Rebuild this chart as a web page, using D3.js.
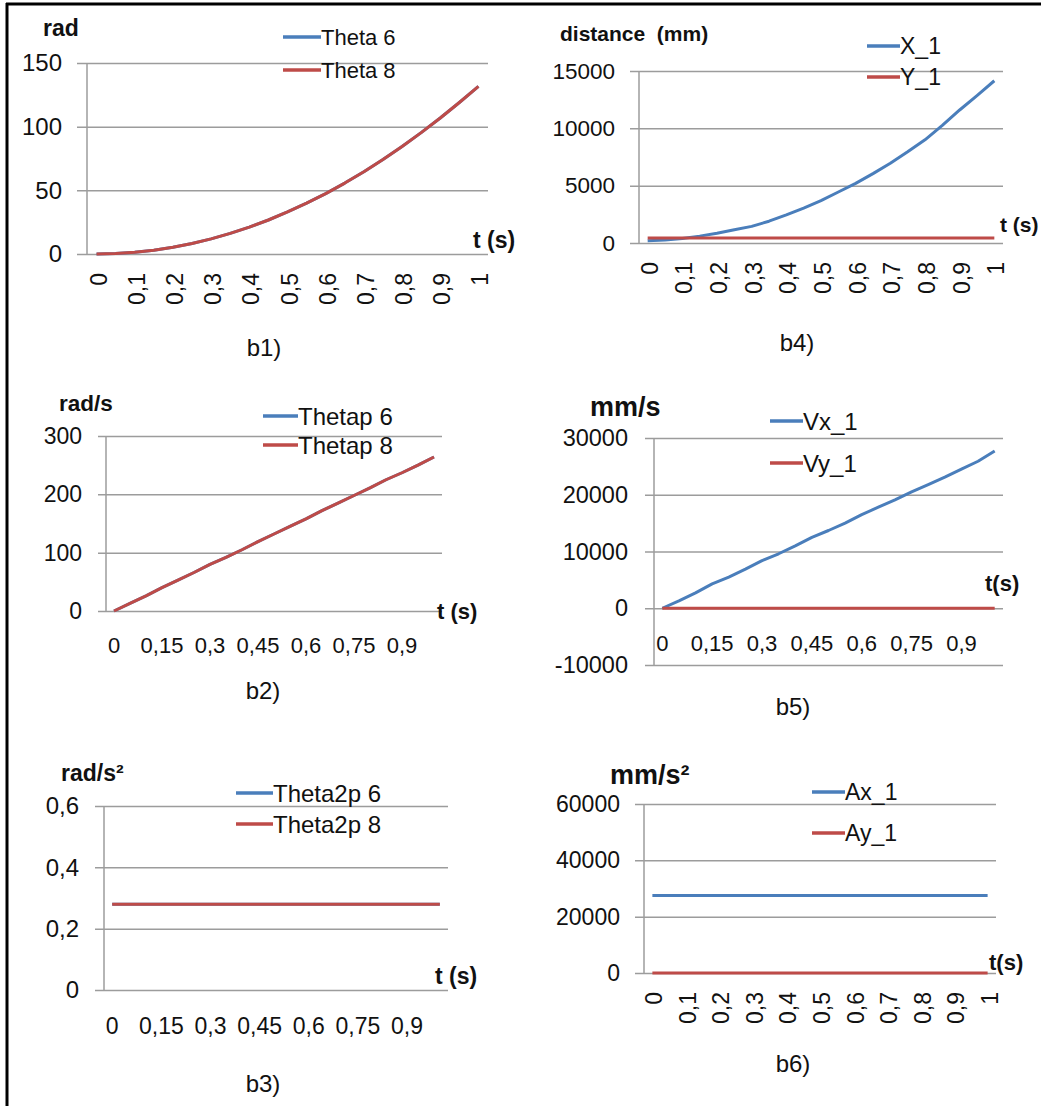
<!DOCTYPE html>
<html>
<head>
<meta charset="utf-8">
<script src="https://cdnjs.cloudflare.com/ajax/libs/d3/7.8.5/d3.min.js"></script>
<style>
  body { margin: 0; background: #fff; }
  text { font-family: "Liberation Sans", Arial, sans-serif; fill: #111; white-space: pre; }
</style>
</head>
<body>
<div id="vis"></div>
<script>
// time categories (21 points, 0 .. 1 s)
var tLabels = ["0","0,05","0,1","0,15","0,2","0,25","0,3","0,35","0,4","0,45","0,5",
               "0,55","0,6","0,65","0,7","0,75","0,8","0,85","0,9","0,95","1"];
var tTicksTenth = ["0","0,1","0,2","0,3","0,4","0,5","0,6","0,7","0,8","0,9","1"];
var tTicksFifteen = ["0","0,15","0,3","0,45","0,6","0,75","0,9"];

// b1) angular position (rad)
var theta6 = [0, 0.3, 1.3, 3.0, 5.3, 8.2, 11.9, 16.2, 21.1, 26.7, 33.0, 39.9, 47.4, 55.7, 64.6, 74.2, 84.4, 95.3, 106.8, 119.0, 131.6];
var theta8 = [0, 0.3, 1.3, 3.0, 5.3, 8.2, 11.9, 16.2, 21.1, 26.7, 33.0, 39.9, 47.4, 55.7, 64.6, 74.2, 84.4, 95.3, 106.8, 119.0, 131.6];
var b1Ticks = [0, 50, 100, 150];

// b2) angular velocity (rad/s)
var thetap6 = [0, 13, 26, 40, 53, 66, 80, 92, 105, 119, 132, 145, 158, 172, 185, 198, 211, 225, 237, 250, 264];
var thetap8 = [0, 13, 26, 40, 53, 66, 80, 92, 105, 119, 132, 145, 158, 172, 185, 198, 211, 225, 237, 250, 264];
var b2Ticks = [0, 100, 200, 300];

// b3) angular acceleration (rad/s2)
var theta2p6 = [0.28, 0.28, 0.28, 0.28, 0.28, 0.28, 0.28, 0.28, 0.28, 0.28, 0.28, 0.28, 0.28, 0.28, 0.28, 0.28, 0.28, 0.28, 0.28, 0.28, 0.28];
var theta2p8 = [0.28, 0.28, 0.28, 0.28, 0.28, 0.28, 0.28, 0.28, 0.28, 0.28, 0.28, 0.28, 0.28, 0.28, 0.28, 0.28, 0.28, 0.28, 0.28, 0.28, 0.28];
var b3Ticks = [0, 0.2, 0.4, 0.6];

// b4) distance (mm)
var x1 = [200, 260, 400, 600, 850, 1150, 1450, 1900, 2450, 3050, 3700, 4450, 5200, 6050, 6950, 7950, 9000, 10250, 11600, 12850, 14150];
var y1 = [430, 430, 430, 430, 430, 430, 430, 430, 430, 430, 430, 430, 430, 430, 430, 430, 430, 430, 430, 430, 430];
var b4Ticks = [0, 5000, 10000, 15000];

// b5) velocity (mm/s)
var vx1 = [0, 1300, 2700, 4300, 5500, 6900, 8400, 9600, 11000, 12500, 13700, 15000, 16500, 17800, 19100, 20500, 21800, 23100, 24500, 25900, 27700];
var vy1 = [0, 0, 0, 0, 0, 0, 0, 0, 0, 0, 0, 0, 0, 0, 0, 0, 0, 0, 0, 0, 0];
var b5Ticks = [-10000, 0, 10000, 20000, 30000];

// b6) acceleration (mm/s2)
var ax1 = [27500, 27500, 27500, 27500, 27500, 27500, 27500, 27500, 27500, 27500, 27500, 27500, 27500, 27500, 27500, 27500, 27500, 27500, 27500, 27500, 27500];
var ay1 = [0, 0, 0, 0, 0, 0, 0, 0, 0, 0, 0, 0, 0, 0, 0, 0, 0, 0, 0, 0, 0];
var b6Ticks = [0, 20000, 40000, 60000];

var blue = "#4a7ebb", red = "#be4b48", grid = "#9c9c9c";

var svg = d3.select("#vis").append("svg")
  .attr("width", 1041)
  .attr("height", 1106);

// outer frame (only left and top edges are visible)
svg.append("line").attr("x1", 7).attr("x2", 7).attr("y1", 3).attr("y2", 1106)
  .attr("stroke", "#000").attr("stroke-width", 3);
svg.append("line").attr("x1", 6).attr("x2", 1041).attr("y1", 4).attr("y2", 4)
  .attr("stroke", "#000").attr("stroke-width", 3);

function fmt(d) { return String(d).replace(".", ","); }

// draws one small chart
function drawPanel(p) {
  var g = svg.append("g");

  var x = d3.scaleBand().domain(tLabels).range([p.left, p.right]).padding(0);
  var y = d3.scaleLinear().domain(p.domain).range([p.bottom, p.top]);
  var cx = function(i) { return x(tLabels[i]) + x.bandwidth() / 2; };

  // y axis + gridlines
  var ya = g.append("g")
    .attr("transform", "translate(" + p.gridStart + ",0)")
    .call(d3.axisLeft(y).tickValues(p.ticks).tickFormat(fmt)
      .tickSize(-(p.right - p.gridStart)).tickPadding(p.tickPad));
  ya.select(".domain").remove();
  ya.selectAll(".tick line").attr("stroke", grid).attr("stroke-width", 1.5);
  ya.selectAll(".tick text")
    .style("font-family", "Liberation Sans, Arial, sans-serif")
    .style("font-size", p.tickFont + "px").attr("fill", "#111");

  // vertical axis line
  g.append("line")
    .attr("x1", p.left).attr("x2", p.left)
    .attr("y1", y(p.domain[1])).attr("y2", y(p.domain[0]))
    .attr("stroke", grid).attr("stroke-width", 1.5);

  // x axis labels
  var zeroY = y(0);
  var xa = g.append("g")
    .attr("transform", "translate(0," + zeroY + ")")
    .call(d3.axisBottom(x).tickValues(p.xTicks).tickSize(0).tickPadding(0));
  xa.select(".domain").remove();
  var xt = xa.selectAll(".tick text")
    .style("font-family", "Liberation Sans, Arial, sans-serif")
    .style("font-size", p.xFont + "px").attr("fill", "#111");
  if (p.rotate) {
    xt.attr("transform", "rotate(-90)")
      .attr("text-anchor", "end")
      .attr("dy", null)
      .attr("dominant-baseline", "central")
      .attr("x", -p.xOffset).attr("y", 2);
  } else {
    xt.attr("dy", null).attr("dominant-baseline", "central").attr("y", p.xOffset);
  }

  // series lines
  var line = d3.line().x(function(d, i) { return cx(i); }).y(function(d) { return y(d); });
  p.series.forEach(function(s) {
    g.append("path")
      .datum(s.values)
      .attr("d", line)
      .attr("fill", "none")
      .attr("stroke", s.color)
      .attr("stroke-width", 3)
      .attr("stroke-linejoin", "round");
  });

  // legend
  p.series.forEach(function(s, i) {
    var ly = p.legY + i * p.legStep;
    g.append("line")
      .attr("x1", p.legX).attr("x2", p.legX + p.legLen)
      .attr("y1", ly).attr("y2", ly)
      .attr("stroke", s.color).attr("stroke-width", 3.5);
    g.append("text")
      .attr("x", p.legX + p.legLen).attr("y", ly)
      .attr("dominant-baseline", "central")
      .style("font-size", p.legFont + "px")
      .text(s.name);
  });

  // unit label (top-left)
  g.append("text")
    .attr("x", p.unitX).attr("y", p.unitY)
    .attr("dominant-baseline", "central")
    .style("font-size", p.unitFont + "px").style("font-weight", "bold")
    .text(p.unit);

  // time label
  g.append("text")
    .attr("x", p.tX).attr("y", p.tY)
    .attr("dominant-baseline", "central")
    .style("font-size", p.tFont + "px").style("font-weight", "bold")
    .text(p.tLabel);

  // caption
  g.append("text")
    .attr("x", p.capX).attr("y", p.capY)
    .attr("text-anchor", "middle")
    .attr("dominant-baseline", "central")
    .style("font-size", "24px")
    .text(p.caption);
}

drawPanel({
  left: 87, right: 488, top: 63, bottom: 254, gridStart: 77, tickPad: 15, tickFont: 24,
  domain: [0, 150], ticks: b1Ticks, xTicks: tTicksTenth, rotate: true, xFont: 23, xOffset: 19,
  series: [{name: "Theta 6", values: theta6, color: blue}, {name: "Theta 8", values: theta8, color: red}],
  legX: 283, legLen: 38, legY: 37, legStep: 33, legFont: 22,
  unit: "rad", unitX: 43, unitY: 28, unitFont: 23,
  tLabel: "t (s)", tX: 473, tY: 240, tFont: 23,
  caption: "b1)", capX: 264, capY: 347
});

drawPanel({
  left: 639, right: 1003, top: 71, bottom: 243, gridStart: 630, tickPad: 15, tickFont: 22.5,
  domain: [0, 15000], ticks: b4Ticks, xTicks: tTicksTenth, rotate: true, xFont: 23, xOffset: 19,
  series: [{name: "X_1", values: x1, color: blue}, {name: "Y_1", values: y1, color: red}],
  legX: 867, legLen: 33, legY: 46, legStep: 31, legFont: 23,
  unit: "distance  (mm)", unitX: 560, unitY: 33, unitFont: 21,
  tLabel: "t (s)", tX: 1000, tY: 224, tFont: 21,
  caption: "b4)", capX: 797, capY: 342
});

drawPanel({
  left: 106, right: 442, top: 436, bottom: 611, gridStart: 98, tickPad: 16, tickFont: 23,
  domain: [0, 300], ticks: b2Ticks, xTicks: tTicksFifteen, rotate: false, xFont: 22, xOffset: 34,
  series: [{name: "Thetap 6", values: thetap6, color: blue}, {name: "Thetap 8", values: thetap8, color: red}],
  legX: 263, legLen: 35, legY: 416, legStep: 29, legFont: 24,
  unit: "rad/s", unitX: 59, unitY: 403, unitFont: 22.5,
  tLabel: "t (s)", tX: 437, tY: 611, tFont: 22,
  caption: "b2)", capX: 263, capY: 690
});

drawPanel({
  left: 654, right: 1003, top: 438, bottom: 665, gridStart: 645, tickPad: 17, tickFont: 23.5,
  domain: [-10000, 30000], ticks: b5Ticks, xTicks: tTicksFifteen, rotate: false, xFont: 22, xOffset: 35,
  series: [{name: "Vx_1", values: vx1, color: blue}, {name: "Vy_1", values: vy1, color: red}],
  legX: 770, legLen: 33, legY: 421, legStep: 42, legFont: 24,
  unit: "mm/s", unitX: 590, unitY: 407, unitFont: 27,
  tLabel: "t(s)", tX: 985, tY: 583, tFont: 22,
  caption: "b5)", capX: 793, capY: 706
});

drawPanel({
  left: 104, right: 448, top: 806, bottom: 990, gridStart: 95, tickPad: 16, tickFont: 24,
  domain: [0, 0.6], ticks: b3Ticks, xTicks: tTicksFifteen, rotate: false, xFont: 23, xOffset: 36,
  series: [{name: "Theta2p 6", values: theta2p6, color: blue}, {name: "Theta2p 8", values: theta2p8, color: red}],
  legX: 236, legLen: 37, legY: 793, legStep: 31, legFont: 24,
  unit: "rad/s\u00b2", unitX: 61, unitY: 773, unitFont: 23,
  tLabel: "t (s)", tX: 435, tY: 976, tFont: 23,
  caption: "b3)", capX: 263, capY: 1083
});

drawPanel({
  left: 644, right: 996, top: 804, bottom: 973, gridStart: 635, tickPad: 15, tickFont: 23,
  domain: [0, 60000], ticks: b6Ticks, xTicks: tTicksTenth, rotate: true, xFont: 23, xOffset: 19,
  series: [{name: "Ax_1", values: ax1, color: blue}, {name: "Ay_1", values: ay1, color: red}],
  legX: 812, legLen: 33, legY: 792, legStep: 41, legFont: 23,
  unit: "mm/s\u00b2", unitX: 610, unitY: 775, unitFont: 27,
  tLabel: "t(s)", tX: 989, tY: 962, tFont: 22,
  caption: "b6)", capX: 793, capY: 1063
});
</script>
</body>
</html>
